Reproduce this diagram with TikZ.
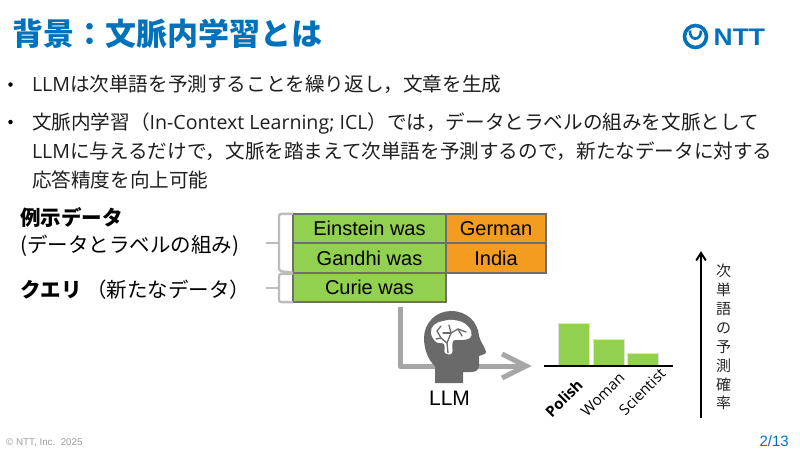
\documentclass[tikz,border=0pt]{standalone}
\usepackage{fontspec}
\setmainfont{Liberation Sans}
\newfontfamily\jp{Noto Sans CJK JP}
\newfontfamily\la{Open Sans}
\newcommand{\fs}[1]{\fontsize{#1}{#1}\selectfont}
\definecolor{nttblue}{HTML}{0072BC}
\definecolor{cellgreen}{HTML}{92D050}
\definecolor{cellorange}{HTML}{F39C1F}
\definecolor{cellborder}{HTML}{6E6E6E}
\definecolor{softgray}{HTML}{A6A6A6}
\definecolor{iconGray}{HTML}{6A6A6A}
\tikzset{
  body/.style={anchor=base west,inner sep=0,outer sep=0,font=\jp\fs{19.6},text=black!88},
  bulletmark/.style={circle,fill=black,inner sep=0,minimum size=4.5pt},
  cell/.style={draw=cellborder,line width=2.4pt,inner sep=0,outer sep=0,minimum height=29.5pt,font=\fs{20},text depth=0pt},
  greencell/.style={cell,fill=cellgreen,minimum width=153pt},
  orangecell/.style={cell,fill=cellorange,minimum width=100pt},
  bar/.style={fill=cellgreen,draw=black!12,line width=.6pt},
  barlabel/.style={anchor=east,rotate=45,inner sep=0,font=\la\fs{15}},
  bracketline/.style={draw=softgray!75,line width=2.4pt,rounded corners=2pt},
  flow/.style={draw=softgray,line width=5pt},
  vchar/.style={inner sep=0,font=\jp\fs{15},text=black!85},
}
\begin{document}
\begin{tikzpicture}[x=1pt,y=-1pt]
\useasboundingbox (0,0) rectangle (800,450);
\fill[white] (0,0) rectangle (800,450);
% title
\node[anchor=base west,inner sep=0,font=\jp\bfseries\fs{31},text=nttblue] (title) at (12,45) {背景：文脈内学習とは};
% logo
\draw[nttblue,line width=3.6pt] (695.5,36.5) circle (11);
\draw[nttblue,line width=2.6pt] (690,30.5) arc[start angle=170,end angle=370,x radius=5.5,y radius=-7];
\node[anchor=base west,inner sep=0,font=\bfseries\fs{24},text=nttblue,xscale=1.1] (ntt) at (713.5,45.5) {NTT};
% bullets
\node[bulletmark] (b1) at (10.5,84.5) {};
\node[body] (l1) at (32,91) {{\la LLM}は次単語を予測することを繰り返し，文章を生成};
\node[bulletmark] (b2) at (10.5,122) {};
\node[body] (l2) at (32,129) {文脈内学習（{\la In-Context Learning; ICL}）では，データとラベルの組みを文脈として};
\node[body] (l3) at (32,158) {{\la LLM}に与えるだけで，文脈を踏まえて次単語を予測するので，新たなデータに対する};
\node[body] (l4) at (32,187) {応答精度を向上可能};
% left labels
\node[anchor=base west,inner sep=0,font=\jp\bfseries\fs{20.5}] (ex) at (20,225) {例示データ};
\node[anchor=base west,inner sep=0,font=\jp\fs{20.5}] (exs) at (20,252) {(データとラベルの組み)};
\node[anchor=base west,inner sep=0,font=\jp\bfseries\fs{20.5}] (qu) at (20,297) {クエリ};
\node[anchor=base west,inner sep=0,font=\jp\fs{20.5}] (qus) at (86,297) {（新たなデータ）};
% table
\node[greencell] (e) at (369.5,228.5) {Einstein was};
\node[greencell] (g) at (369.5,258) {Gandhi was};
\node[greencell] (c) at (369.5,287.5) {Curie was};
\node[orangecell] (ge) at (496,228.5) {German};
\node[orangecell] (in) at (496,258) {India};
% brackets
\path[bracketline] (e.north west) -- (279,214) -- (279,271) -- (g.south west);
\path[bracketline,rounded corners=0] (266,243) -- (279,243);
\path[bracketline] (c.north west) ++(0,1) -- (279,274) -- (279,302) -- (c.south west);
\path[bracketline,rounded corners=0] (266,288) -- (279,288);
% flow arrow
\coordinate (fs) at (400,307);
\coordinate (fe) at (526,366);
\draw[flow,line join=round] (fs) |- (fe);
\draw[flow,line join=miter] (502,354) -- (fe) -- (502,378);
% head icon
\fill[iconGray] (435,383) -- (435,366) .. controls (428,360) and (424,349) .. (424,338)
  .. controls (424,323) and (436,311) .. (451,311)
  .. controls (467,311) and (478,322) .. (479,336)
  .. controls (480,341) and (486,349) .. (486,352)
  .. controls (486,354) and (482,355) .. (479,356)
  -- (479,365) .. controls (479,370) and (476,372) .. (471,372) -- (463,372) -- (463,383) -- cycle;
% brain
\fill[white] plot[smooth cycle,tension=.7] coordinates {(431,333) (434,325) (443,321) (453,320) (464,323) (471,331) (470,338) (462,340) (453,341) (452,353) (445,353) (444,344) (436,342)};
\begin{scope}[iconGray,line width=1.3pt,line cap=round]
\draw (448,353) -- (447,343) -- (441,338) -- (436,339);
\draw (441,338) -- (437,331) -- (441,326);
\draw (447,343) -- (451,333) -- (449,325);
\draw (451,333) -- (458,329) -- (466,332);
\draw (458,329) -- (462,336);
\draw (443,333) -- (451,333);
\end{scope}
% bars
\draw[bar] (558,366) rectangle (589,323);
\draw[bar] (593,366) rectangle (624,339);
\draw[bar] (627,366) rectangle (658,353);
\coordinate (ax1) at (544,366);
\coordinate (ax2) at (673,366);
\draw[black,line width=2pt] (ax1) -- (ax2);
\node[barlabel,font=\la\bfseries\fs{15}] (p) at (580,382) {Polish};
\node[barlabel] (w) at (622,375) {Woman};
\node[barlabel] (s) at (663,371) {Scientist};
% llm
\node[inner sep=0,font=\fs{21}] (llm) at (449.5,398) {LLM};
% prob arrow
\coordinate (p1) at (701,418);
\coordinate (p2) at (701,253);
\draw[black,line width=2pt] (p1) -- (p2);
\draw[black,line width=2pt,line cap=round,line join=miter] (696.5,260) -- (p2) -- (705.5,260);
\foreach \c/\y/\n in {次/271/a,単/290/b,語/309/c,の/328/d,予/347/f,測/366/g,確/385/h,率/403/i}
  \node[vchar] (v\n) at (723.5,\y) {\c};
% footer
\node[anchor=base west,inner sep=0,font=\fs{9.8},text=black!38] (cr) at (6,445) {© NTT, Inc.\ \ 2025};
\node[anchor=base east,inner sep=0,font=\fs{15},text=nttblue] (pg) at (789,446.5) {2/13};
\end{tikzpicture}
\end{document}
